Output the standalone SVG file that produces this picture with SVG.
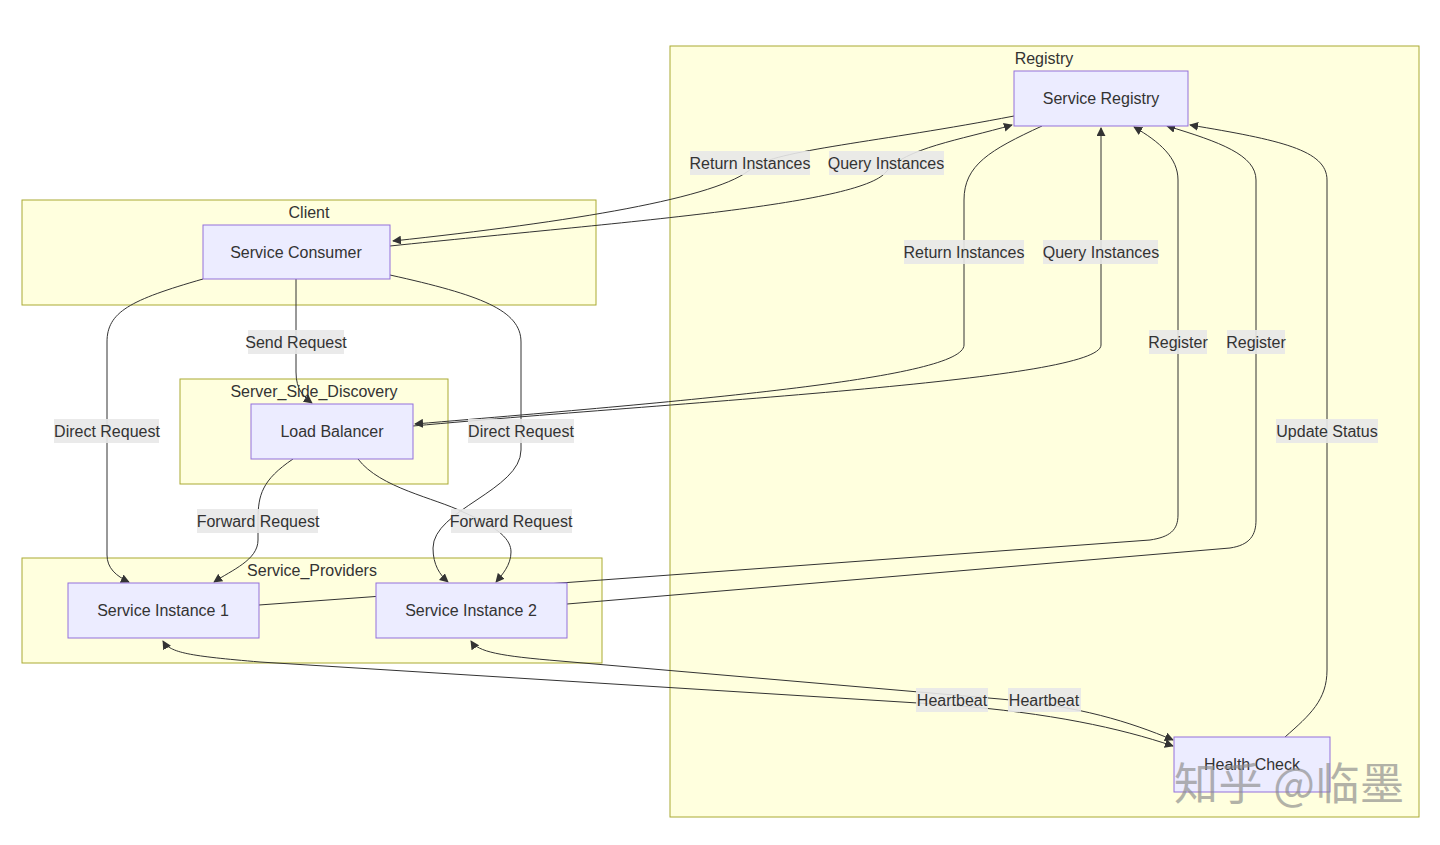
<svg xmlns="http://www.w3.org/2000/svg" width="1440" height="845" viewBox="0 0 1440 845">
<defs>
<style>
text{font-family:"Liberation Sans",Arial,sans-serif;font-size:16px;fill:#333;text-anchor:middle;dominant-baseline:central}
.cl{fill:#ffffde;stroke:#aaaa33;stroke-width:1}
.nd{fill:#ececff;stroke:#9370db;stroke-width:1}
.e{fill:none;stroke:#333;stroke-width:1}
.lb{fill:#e8e8e8;opacity:0.9}
.wm{font-family:"Noto Sans CJK SC","Liberation Sans",sans-serif;font-size:44px;fill:#8a8a8a;opacity:0.65;text-anchor:start;dominant-baseline:auto}
</style>
<marker id="ah" viewBox="0 0 10 10" refX="9" refY="5" markerWidth="9" markerHeight="9" markerUnits="userSpaceOnUse" orient="auto-start-reverse">
<path d="M0,0 L10,5 L0,10 z" fill="#333"/>
</marker>
</defs>
<rect width="1440" height="845" fill="#ffffff"/>
<g id="clusters">
<g id="cluster-Registry"><rect class="cl" x="670" y="46" width="749" height="771"/><text x="1044" y="58">Registry</text></g>
<g id="cluster-Client"><rect class="cl" x="22" y="200" width="574" height="105"/><text x="309" y="212">Client</text></g>
<g id="cluster-Server_Side_Discovery"><rect class="cl" x="180" y="379" width="268" height="105"/><text x="314" y="391">Server_Side_Discovery</text></g>
<g id="cluster-Service_Providers"><rect class="cl" x="22" y="558" width="580" height="105"/><text x="312" y="570">Service_Providers</text></g>
</g>
<g id="connectors">
<path class="e" marker-end="url(#ah)" d="M1014,116 C880,142 775,150 752,168 C720,198 570,222 393,241"/>
<path class="e" marker-end="url(#ah)" d="M390,246 C620,222 860,205 886,172 C905,148 960,140 1012,125"/>
<path class="e" marker-end="url(#ah)" d="M413,426 C700,400 1101,380 1101,345 L1101,128"/>
<path class="e" marker-end="url(#ah)" d="M1042,126 C990,150 964,165 964,200 L964,345 C964,378 700,400 415,424"/>
<path class="e" marker-end="url(#ah)" d="M296,279 L296,372 C296,390 304,397 312,403"/>
<path class="e" marker-end="url(#ah)" d="M203,279 C130,300 107,312 107,342 L107,555 C107,568 116,576 129,582"/>
<path class="e" marker-end="url(#ah)" d="M390,275 C480,295 521,310 521,342 L521,450 C521,490 433,510 433,548 C433,565 440,575 448,582"/>
<path class="e" marker-end="url(#ah)" d="M293,459 C262,480 258,495 258,520 L258,540 C258,560 232,570 214,582"/>
<path class="e" marker-end="url(#ah)" d="M358,459 C380,488 435,498 463,512 C500,528 511,540 511,552 C511,565 502,575 496,582"/>
<path class="e" marker-end="url(#ah)" d="M259,605 L1150,540 C1170,537 1178,530 1178,515 L1178,180 C1178,158 1160,142 1134,127"/>
<path class="e" marker-end="url(#ah)" d="M567,604 L1230,548 C1250,545 1256,535 1256,520 L1256,180 C1256,155 1220,142 1167,126"/>
<path class="e" marker-end="url(#ah)" d="M1285,737 C1310,715 1327,700 1327,670 L1327,180 C1327,150 1280,140 1190,125"/>
<path class="e" marker-start="url(#ah)" marker-end="url(#ah)" d="M163,641 C170,653 190,656 260,662 L950,705 C1050,713 1120,728 1173,746"/>
<path class="e" marker-start="url(#ah)" marker-end="url(#ah)" d="M471,641 C478,652 500,656 560,661 L1000,699 C1080,706 1130,722 1173,740"/>
</g>
<g id="edge-labels">
<rect class="lb" x="690" y="151" width="120" height="24"/><text x="750" y="163">Return Instances</text>
<rect class="lb" x="829" y="151" width="115" height="24"/><text x="886" y="163">Query Instances</text>
<rect class="lb" x="904" y="240" width="120" height="24"/><text x="964" y="252">Return Instances</text>
<rect class="lb" x="1043" y="240" width="115" height="24"/><text x="1101" y="252">Query Instances</text>
<rect class="lb" x="248" y="330" width="96" height="24"/><text x="296" y="342">Send Request</text>
<rect class="lb" x="54" y="419" width="105" height="24"/><text x="107" y="431">Direct Request</text>
<rect class="lb" x="468" y="419" width="106" height="24"/><text x="521" y="431">Direct Request</text>
<rect class="lb" x="197" y="509" width="121" height="24"/><text x="258" y="521">Forward Request</text>
<rect class="lb" x="451" y="509" width="121" height="24"/><text x="511" y="521">Forward Request</text>
<rect class="lb" x="1149" y="330" width="58" height="24"/><text x="1178" y="342">Register</text>
<rect class="lb" x="1227" y="330" width="58" height="24"/><text x="1256" y="342">Register</text>
<rect class="lb" x="1276" y="419" width="102" height="24"/><text x="1327" y="431">Update Status</text>
<rect class="lb" x="916" y="688" width="72" height="24"/><text x="952" y="700">Heartbeat</text>
<rect class="lb" x="1008" y="688" width="73" height="24"/><text x="1044" y="700">Heartbeat</text>
</g>
<g id="node-ServiceRegistry"><rect class="nd" x="1014" y="71" width="174" height="55"/><text x="1101" y="98">Service Registry</text></g>
<g id="node-ServiceConsumer"><rect class="nd" x="203" y="225" width="187" height="54"/><text x="296" y="252">Service Consumer</text></g>
<g id="node-LoadBalancer"><rect class="nd" x="251" y="404" width="162" height="55"/><text x="332" y="431">Load Balancer</text></g>
<g id="node-ServiceInstance1"><rect class="nd" x="68" y="583" width="191" height="55"/><text x="163" y="610">Service Instance 1</text></g>
<g id="node-ServiceInstance2"><rect class="nd" x="376" y="583" width="191" height="55"/><text x="471" y="610">Service Instance 2</text></g>
<g id="node-HealthCheck"><rect class="nd" x="1174" y="737" width="156" height="55"/><text x="1252" y="764">Health Check</text></g>
<text class="wm" x="1174" y="800" textLength="230">知乎 @临墨</text>
</svg>
